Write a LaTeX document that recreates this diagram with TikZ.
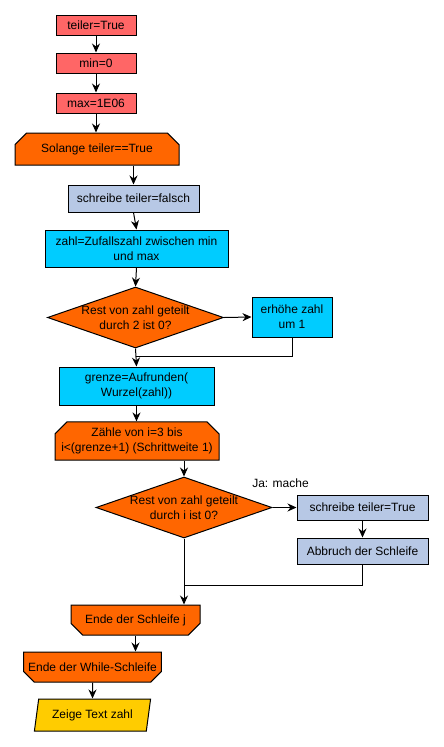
\documentclass[tikz,border=0pt]{standalone}
\usepackage{fontspec}
\setmainfont{Liberation Sans}
\usepackage{tikz}
\usetikzlibrary{shapes.geometric,shapes.misc,arrows.meta}
\definecolor{salmon}{HTML}{FF6666}
\definecolor{loopor}{HTML}{FF6600}
\definecolor{steel}{HTML}{B7C8E5}
\definecolor{skyc}{HTML}{00CCFF}
\definecolor{gold}{HTML}{FFCC00}

\begin{document}
\begin{tikzpicture}[x=1pt,y=-1pt,line width=1pt,
  every node/.style={font=\fontsize{12}{15}\selectfont,align=center,inner sep=0pt},
  box/.style={draw=black,rectangle,minimum width=#1},
  loopstart/.style={draw=black,fill=loopor,chamfered rectangle,
    chamfered rectangle corners={north west,north east},chamfered rectangle sep=6pt,
    inner sep=0pt,minimum width=164pt,minimum height=32pt},
  loopend/.style={draw=black,fill=loopor,chamfered rectangle,
    chamfered rectangle corners={south west,south east},chamfered rectangle sep=6pt,
    inner sep=0pt,minimum width=129pt,minimum height=30pt},
  decide/.style={draw=black,fill=loopor,diamond,inner xsep=-30pt,inner ysep=-8pt,
    minimum width=176pt,minimum height=61pt},
  arr/.style={-{Stealth[length=9pt,width=8pt]}}]
\useasboundingbox (0,0) rectangle (444,747);
\node [box=80pt,fill=salmon,minimum height=20pt] (init) at (96,25) {teiler=True};
\node [box=80pt,fill=salmon,minimum height=20pt] (minval) at (96,63) {min=0};
\node [box=80pt,fill=salmon,minimum height=20pt] (maxval) at (96,103) {max=1E06};
\node [loopstart] (whileloop) at (97,149) {Solange teiler==True};
\node [box=131pt,fill=steel,minimum height=27pt] (setfalse) at (133.5,198.5) {schreibe teiler=falsch};
\node [box=183pt,fill=skyc,minimum height=37pt] (zahl) at (136.5,248.5) {zahl=Zufallszahl zwischen min\\und max};
\node [decide] (even) at (135.5,317.5) {Rest von zahl geteilt\\durch 2 ist 0?};
\node [box=80pt,fill=skyc,minimum height=40pt] (incr) at (292,317) {erhöhe zahl\\um 1};
\node [box=155pt,fill=skyc,minimum height=38pt] (grenze) at (136.5,386) {grenze=Aufrunden(\\Wurzel(zahl))};
\node [loopstart] (forloop) at (137,441) {Zähle von i=3 bis\\i<(grenze+1) (Schrittweite 1)};
\node [decide] (divides) at (184,507.5) {Rest von zahl geteilt\\durch i ist 0?};
\node [box=131pt,fill=steel,minimum height=25pt] (settrue) at (362.5,507.5) {schreibe teiler=True};
\node [box=131pt,fill=steel,minimum height=26pt] (abbruch) at (362.5,551) {Abbruch der Schleife};
\node [loopend] (endfor) at (135.5,620) {Ende der Schleife j};
\node [loopend] (endwhile) at (92.5,667) {Ende der While-Schleife};
\node [draw=black,fill=gold,trapezium,trapezium left angle=74,trapezium right angle=106,
  trapezium stretches=true,minimum width=117pt,minimum height=32pt] (zeige) at (92.5,715) {Zeige Text zahl};
\coordinate (merge1) at (136,356);
\coordinate (merge2) at (184,585);
\draw [arr] (init) -- (minval);
\draw [arr] (minval) -- (maxval);
\draw [arr] (maxval.south) -- (maxval.south |- whileloop.north);
\draw [arr] (setfalse.north |- whileloop.south) -- (setfalse.north);
\draw [arr] (setfalse.south) -- (zahl.north);
\draw [arr] (zahl.south) -- (even.north);
\draw [arr] (even.east) -- (incr.west);
\draw (incr.south) |- (merge1);
\draw [arr] (even.south) -- (grenze.north);
\draw [arr] (grenze.south) -- (grenze.south |- forloop.north);
\draw [arr] (divides.north |- forloop.south) -- (divides.north);
\draw [arr] (divides.east) -- node [above=19pt,xshift=-4pt] {Ja: mache} (settrue.west);
\draw [arr] (settrue) -- (abbruch);
\draw (abbruch.south) |- (merge2);
\draw [arr] (divides.south) -- (divides.south |- endfor.north);
\draw [arr] (endfor.south) -- (endfor.south |- endwhile.north);
\draw [arr] (endwhile.south) -- (zeige.north);
\end{tikzpicture}
\end{document}
